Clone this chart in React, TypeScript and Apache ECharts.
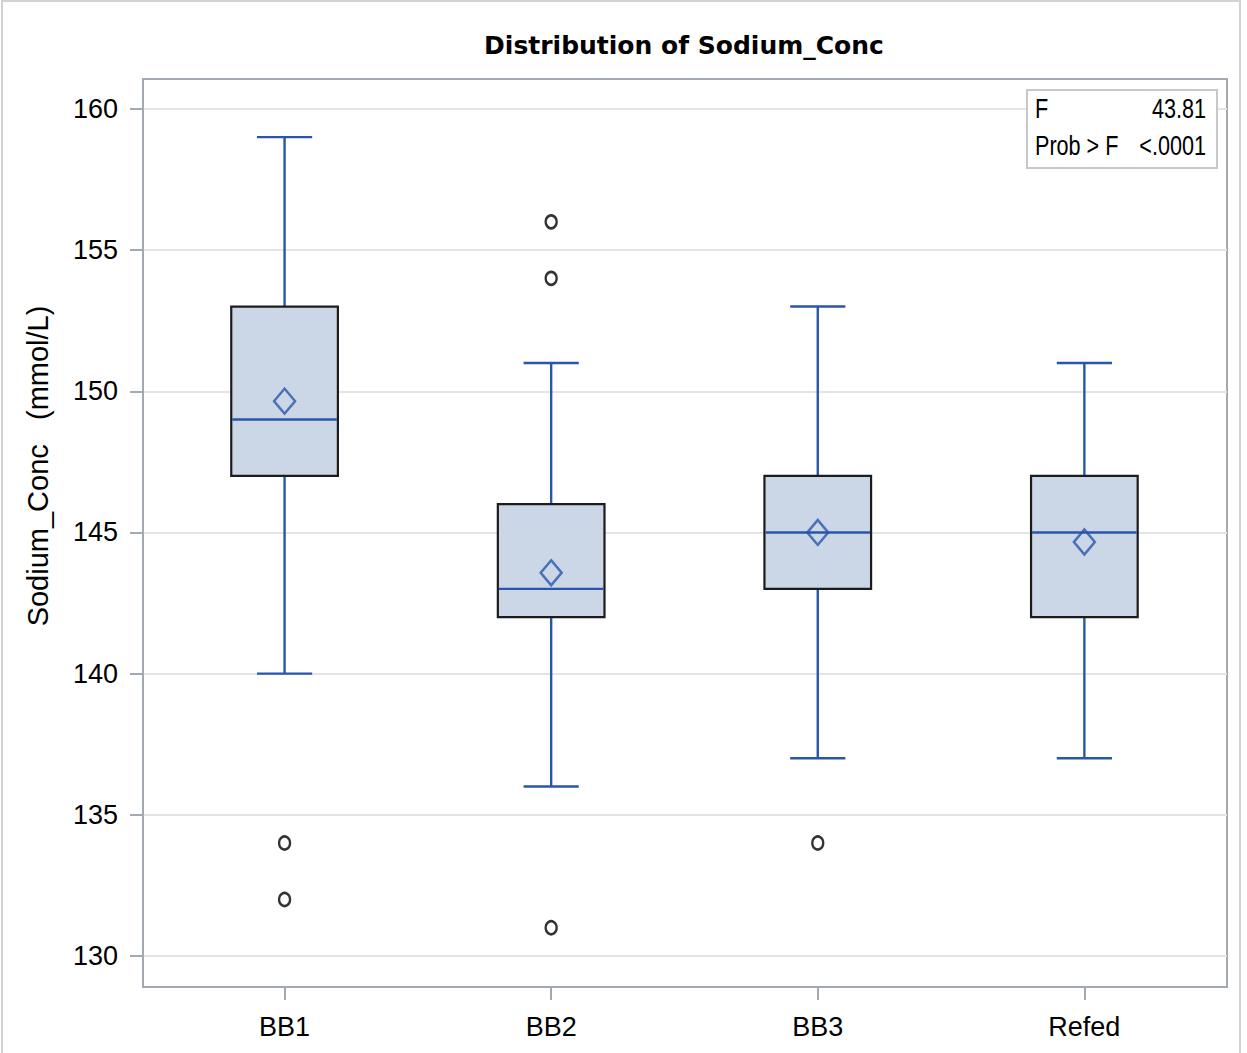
import React, { useEffect, useRef } from "react";
import * as echarts from "echarts";

const categories = ["BB1", "BB2", "BB3", "Refed"];
const whiskerLow = [140, 136, 137, 137];
const q1Values = [147, 142, 143, 142];
const medianValues = [149, 143, 145, 145];
const q3Values = [153, 146, 147, 147];
const whiskerHigh = [159, 151, 153, 151];
const meanValues = [149.65, 143.57, 145.0, 144.66];
const outlierPoints = [
  [0, 134],
  [0, 132],
  [1, 156],
  [1, 154],
  [1, 131],
  [2, 134],
];
const yTicks = [130, 135, 140, 145, 150, 155, 160];
const statLabels = ["F", "Prob > F"];
const statValues = ["43.81", "<.0001"];
const titleText = "Distribution of Sodium_Conc";
const yTitle = "Sodium_Conc   (mmol/L)";

const BLUE = "#2956ab";
const SANS = '"Liberation Sans", Arial, sans-serif';

export default function App() {
  const ref = useRef<HTMLDivElement>(null);
  useEffect(() => {
    document.body.style.margin = "0";
    const chart = echarts.init(ref.current!, null, { renderer: "svg" });
    const boxData = categories.map((_, i) => [
      i,
      whiskerLow[i],
      q1Values[i],
      medianValues[i],
      q3Values[i],
      whiskerHigh[i],
    ]);
    const option: any = {
      animation: false,
      backgroundColor: "#ffffff",
      title: {
        text: titleText,
        left: 679,
        top: 28,
        textAlign: "center",
        textStyle: {
          fontFamily: '"DejaVu Sans", sans-serif',
          fontWeight: "bold",
          fontSize: 25,
          color: "#000",
        },
      },
      grid: {
        left: 143,
        top: 79,
        width: 1084,
        height: 908,
        show: true,
        borderColor: "#a3a9b0",
        borderWidth: 2,
        backgroundColor: "transparent",
      },
      xAxis: {
        type: "value",
        min: -0.531,
        max: 3.535,
        splitLine: { show: false },
        axisLine: { show: true, onZero: false, lineStyle: { color: "#a3a9b0", width: 2 } },
        axisTick: {
          show: true,
          customValues: [0, 1, 2, 3],
          length: 13,
          lineStyle: { color: "#a3a9b0", width: 2 },
        },
        axisLabel: {
          customValues: [0, 1, 2, 3],
          formatter: (v: number) => categories[Math.round(v)] ?? "",
          margin: 26,
          fontFamily: SANS,
          fontSize: 27,
          color: "#000",
        },
      },
      yAxis: {
        type: "value",
        min: 128.9,
        max: 161.06,
        splitNumber: 6,
        axisLine: { show: true, onZero: false, lineStyle: { color: "#a3a9b0", width: 2 } },
        splitLine: { show: true, lineStyle: { color: "#e4e4e4", width: 2 } },
        axisTick: {
          show: true,
          customValues: yTicks,
          length: 13,
          lineStyle: { color: "#a3a9b0", width: 2 },
        },
        axisLabel: {
          customValues: yTicks,
          margin: 25,
          fontFamily: SANS,
          fontSize: 27,
          color: "#000",
        },
      },
      series: [
        {
          type: "custom",
          data: boxData,
          encode: { x: 0, y: [1, 2, 3, 4, 5] },
          renderItem: (params: any, api: any) => {
            const x = api.value(0);
            const pLow = api.coord([x, api.value(1)]);
            const pQ1 = api.coord([x, api.value(2)]);
            const pMed = api.coord([x, api.value(3)]);
            const pQ3 = api.coord([x, api.value(4)]);
            const pHigh = api.coord([x, api.value(5)]);
            const cx = pMed[0];
            const halfBox = api.size([0.4, 0])[0] / 2;
            const halfCap = api.size([0.207, 0])[0] / 2;
            const ls = { stroke: BLUE, lineWidth: 2.4 };
            return {
              type: "group",
              children: [
                { type: "line", shape: { x1: cx, y1: pHigh[1], x2: cx, y2: pQ3[1] }, style: ls },
                { type: "line", shape: { x1: cx, y1: pQ1[1], x2: cx, y2: pLow[1] }, style: ls },
                { type: "line", shape: { x1: cx - halfCap, y1: pHigh[1], x2: cx + halfCap, y2: pHigh[1] }, style: ls },
                { type: "line", shape: { x1: cx - halfCap, y1: pLow[1], x2: cx + halfCap, y2: pLow[1] }, style: ls },
                {
                  type: "rect",
                  shape: { x: cx - halfBox, y: pQ3[1], width: 2 * halfBox, height: pQ1[1] - pQ3[1] },
                  style: { fill: "#cbd6e6", stroke: "#1c1c1c", lineWidth: 2.2 },
                },
                { type: "line", shape: { x1: cx - halfBox + 1, y1: pMed[1], x2: cx + halfBox - 1, y2: pMed[1] }, style: ls },
              ],
            };
          },
          z: 2,
        },
        {
          type: "scatter",
          data: categories.map((_, i) => [i, meanValues[i]]),
          symbol: "diamond",
          symbolSize: [21, 25],
          itemStyle: { color: "rgba(0,0,0,0)", borderColor: BLUE, borderWidth: 2.5 },
          z: 3,
        },
        {
          type: "scatter",
          data: outlierPoints,
          symbol: "circle",
          symbolSize: [11, 13],
          itemStyle: { color: "rgba(0,0,0,0)", borderColor: "#000", borderWidth: 2.5 },
          z: 3,
        },
      ],
      graphic: [
        {
          type: "rect",
          shape: { x: 2, y: 1, width: 1238, height: 1070 },
          style: { fill: "none", stroke: "#d2d2d2", lineWidth: 2 },
          silent: true,
          z: -10,
        },
        {
          type: "text",
          x: 38,
          y: 466,
          rotation: Math.PI / 2,
          style: {
            text: yTitle,
            textAlign: "center",
            textVerticalAlign: "middle",
            fontFamily: SANS,
            fontSize: 29,
            fill: "#000",
          },
        },
        {
          type: "rect",
          shape: { x: 1027, y: 90, width: 190, height: 78 },
          style: { fill: "#fff", stroke: "#c8c8c8", lineWidth: 2 },
          z: 10,
        },
        ...statLabels.map((t, i) => ({
          type: "text",
          x: 1035,
          y: 109 + i * 37,
          scaleX: 0.8,
          z: 11,
          style: {
            text: t,
            textAlign: "left",
            textVerticalAlign: "middle",
            fontFamily: SANS,
            fontSize: 27,
            fill: "#000",
          },
        })),
        ...statValues.map((t, i) => ({
          type: "text",
          x: 1206,
          y: 109 + i * 37,
          scaleX: 0.8,
          z: 11,
          style: {
            text: t,
            textAlign: "right",
            textVerticalAlign: "middle",
            fontFamily: SANS,
            fontSize: 27,
            fill: "#000",
          },
        })),
      ],
    };
    chart.setOption(option);
    return () => chart.dispose();
  }, []);
  return <div ref={ref} style={{ width: 1247, height: 1053 }} />;
}
